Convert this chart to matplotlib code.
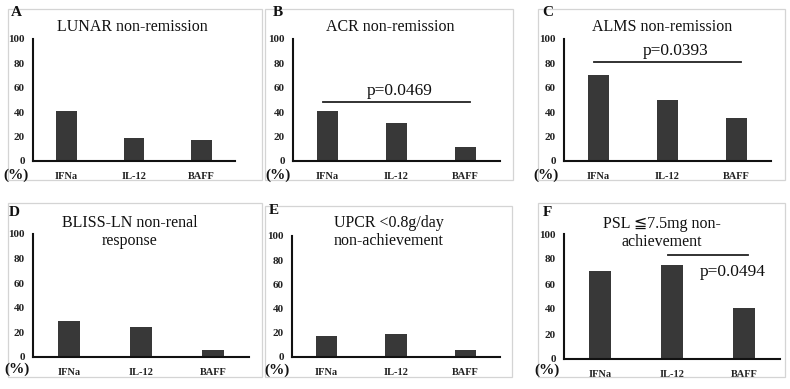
import matplotlib
matplotlib.use('Agg')
import matplotlib.pyplot as plt
from matplotlib.patches import Rectangle

W, H = 790, 389
SERIF = ['Liberation Serif', 'DejaVu Serif', 'DejaVu Sans']

categories = ['IFNa', 'IL-12', 'BAFF']
yticks = [0, 20, 40, 60, 80, 100]
letters = ['A', 'B', 'C', 'D', 'E', 'F']
titles = ['LUNAR non-remission', 'ACR non-remission', 'ALMS non-remission',
          'BLISS-LN non-renal\nresponse', 'UPCR <0.8g/day\nnon-achievement',
          'PSL \u22667.5mg non-\nachievement']
values_A = [41, 19, 17.5]
values_B = [41, 31, 11.5]
values_C = [70.5, 50, 35.5]
values_D = [29, 24.5, 5.7]
values_E = [17.5, 18.6, 5.8]
values_F = [70.5, 75, 41]
series = [values_A, values_B, values_C, values_D, values_E, values_F]
# significance annotations: panel index -> (from, to, line level, label)
sig_B = (0, 2, 48, 'p=0.0469')
sig_C = (0, 2, 81, 'p=0.0393')
sig_F = (1, 2, 83, 'p=0.0494')
sigs = {1: sig_B, 2: sig_C, 5: sig_F}
# label anchor (x in category units, y in %) and alignment
sig_text_pos = {1: (1.05, 51, 'bottom'), 2: (1.12, 84, 'bottom'), 5: (1.85, 70, 'center')}

# layout in pixels
axes_px = [(33, 202, 39, 161), (293, 207, 39, 161), (564, 207, 39, 161),
           (33, 216, 234, 357), (292, 208, 236, 357), (564, 216, 234, 359)]
boxes_px = [(8, 262, 9, 180), (265, 513, 9, 180), (538, 785, 9, 180),
            (8, 262, 203, 377), (265, 512, 206, 377), (538, 785, 203, 377)]
title_px = [(132, 27), (390, 27), (662, 27), (130, 232), (389, 232), (662, 233)]
letter_px = [(16, 13), (278, 13), (548, 13), (14, 213), (274, 211), (547, 213)]
pct_px = [(16, 175), (278, 175), (546, 175), (17, 369), (277, 370), (547, 370)]

fig = plt.figure(figsize=(W / 100, H / 100), dpi=100)
fig.patch.set_facecolor('white')

def fx(x):
    return x / W

def fy(y):
    return 1 - y / H

for i in range(6):
    x0, x1, y0, y1 = boxes_px[i]
    fig.patches.append(Rectangle((fx(x0), fy(y1)), fx(x1 - x0), (y1 - y0) / H,
                                 transform=fig.transFigure, fill=False,
                                 edgecolor='#d4d4d4', linewidth=0.9))
    l, w, t, b = axes_px[i]
    ax = fig.add_axes([fx(l), fy(b), fx(w), (b - t) / H])
    ax.set_facecolor('none')
    xs = list(range(len(categories)))
    ax.bar(xs, series[i], width=0.31, color='#383838')
    ax.set_xlim(-0.5, 2.5)
    ax.set_ylim(0, 100)
    ax.set_yticks(yticks)
    ax.set_yticklabels([str(v) for v in yticks], fontfamily=SERIF,
                       fontsize=8, fontweight='bold', color='#222222')
    ax.set_xticks(xs)
    ax.set_xticklabels(categories, fontfamily=SERIF, fontsize=7.5,
                       fontweight='bold', color='#222222')
    ax.tick_params(axis='both', length=0)
    ax.tick_params(axis='y', pad=6)
    ax.tick_params(axis='x', pad=8)
    for s in ['top', 'right']:
        ax.spines[s].set_visible(False)
    for s in ['left', 'bottom']:
        ax.spines[s].set_linewidth(1.5)
        ax.spines[s].set_color('#111111')
    if i in sigs:
        a, bb, lvl, lab = sigs[i]
        ax.plot([a - 0.06, bb + 0.06], [lvl, lvl], color='#222222', lw=1.3,
                clip_on=False)
        tx_, ty_, va_ = sig_text_pos[i]
        ax.text(tx_, ty_, lab, ha='center', va=va_, fontsize=12.5,
                fontfamily=SERIF, color='#111111')
    tx, ty = title_px[i]
    fig.text(fx(tx), fy(ty), titles[i], ha='center', va='center', fontsize=11.5,
             fontfamily=SERIF, color='#111111', linespacing=1.1)
    lx, ly = letter_px[i]
    fig.text(fx(lx), fy(ly), letters[i], ha='center', va='center', fontsize=11,
             fontweight='bold', fontfamily=SERIF, color='#111111')
    px, py = pct_px[i]
    fig.text(fx(px), fy(py), '(%)', ha='center', va='center', fontsize=11,
             fontweight='bold', fontfamily=SERIF, color='#111111')

fig.savefig('out.png', dpi=100, facecolor='white')
